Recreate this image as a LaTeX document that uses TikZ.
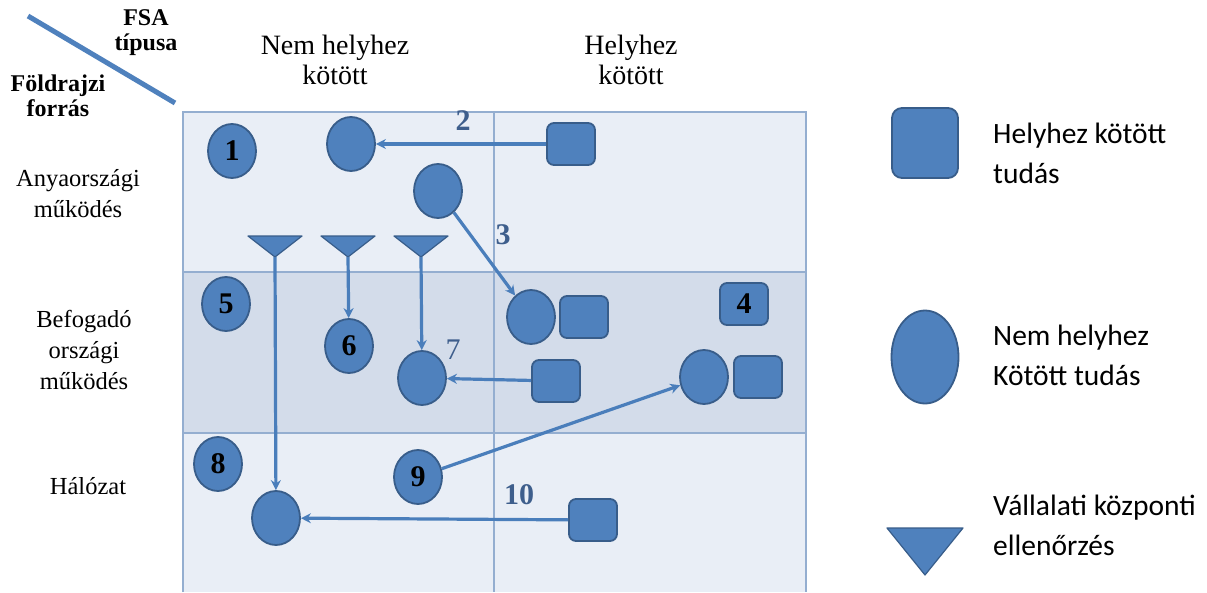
\documentclass[tikz,border=0pt]{standalone}
\usepackage{fontspec}
\setmainfont{Liberation Serif}
\newfontfamily\legfont{Carlito}
\usetikzlibrary{shapes.geometric,arrows.meta}
\definecolor{shfill}{HTML}{4F81BD}
\definecolor{shdraw}{HTML}{385D8A}
\definecolor{gridc}{HTML}{94AED0}
\definecolor{rowA}{HTML}{E9EEF6}
\definecolor{rowB}{HTML}{D3DCEA}
\definecolor{labc}{HTML}{3E5E8C}
\definecolor{arrc}{HTML}{4A7EBB}
\begin{document}
\begin{tikzpicture}[x=1pt,y=-1pt,
  know/.style={ellipse, fill=shfill, draw=shdraw, line width=1.8pt, minimum width=48pt, minimum height=54pt, inner sep=0pt, font=\fontsize{30}{30}\selectfont\bfseries},
  boxk/.style={rectangle, rounded corners=7pt, fill=shfill, draw=shdraw, line width=1.8pt, minimum width=48pt, minimum height=42pt, inner sep=0pt, font=\fontsize{30}{30}\selectfont\bfseries},
  trishape/.style={fill=shfill, draw=shdraw, line width=1.2pt, line join=round},
  arr/.style={draw=arrc, line width=3.2pt, -{Stealth[length=10pt,width=10pt]}},
  gridline/.style={draw=gridc, line width=1.4pt},
  numlab/.style={text=labc, font=\fontsize{30}{30}\selectfont\bfseries, inner sep=0pt},
  head/.style={align=center, font=\fontsize{28}{30}\selectfont, inner sep=0pt},
  rowlab/.style={align=center, font=\fontsize{24.5}{31}\selectfont, inner sep=0pt},
  corner/.style={align=center, font=\fontsize{24}{25}\selectfont\bfseries, inner sep=0pt},
  legtext/.style={anchor=west, align=left, font=\legfont\fontsize{29.5}{40}\selectfont, inner sep=0pt}
]
\useasboundingbox (0,0) rectangle (1207,592);
\fill[white] (0,0) rectangle (1207,592);
% grid
\fill[rowA] (183,112) rectangle (806,272);
\fill[rowB] (183,272) rectangle (806,433);
\fill[rowA] (183,433) rectangle (806,592);
\draw[gridline] (183,592) -- (183,112) -- (806,112) -- (806,592);
\draw[gridline] (183,272) -- (806,272);
\draw[gridline] (183,433) -- (806,433);
\draw[gridline] (494,112) -- (494,592);
% corner header
\draw[draw=shfill, line width=5pt] (28,16) -- (175,103);
\node[corner] (fsa) at (146,33) {FSA\\típusa};
\node[corner] (geo) at (58,96) {Földrajzi\\forrás};
% column headers
\node[head] (h1) at (335,60) {Nem helyhez\\kötött};
\node[head] (h2) at (631,60) {Helyhez\\kötött};
% row headers
\node[rowlab] (r1) at (78,194) {Anyaországi\\működés};
\node[rowlab] (r2) at (84,350) {Befogadó\\országi\\működés};
\node[rowlab] (r3) at (88,486) {Hálózat};
% row 1
\node[know] (c1) at (232,151) {1};
\node[know] (c2) at (351,144) {};
\node[know] (c3) at (438,191) {};
\node[boxk] (s2) at (571,144) {};
\node[numlab] (l2) at (463,121) {2};
\node[numlab] (l3) at (503,235) {3};
\coordinate (t1) at (275,257);
\coordinate (t2) at (348,257);
\coordinate (t3) at (421,257);
\foreach \t in {t1,t2,t3}{
  \draw[trishape] (\t) -- ++(-27,-21) -- ++(54,0) -- cycle;
}
% row 2
\node[know] (c5) at (226,304) {5};
\node[know] (c6) at (349,346) {6};
\node[know] (c7) at (422,378) {};
\node[numlab, font=\fontsize{30}{30}\selectfont] (l7) at (453,350) {7};
\node[know] (c3b) at (531,317) {};
\node[boxk] (s3b) at (584,317) {};
\node[boxk] (s4) at (744,304) {4};
\node[boxk] (s7) at (556,381) {};
\node[know] (c9b) at (704,377) {};
\node[boxk] (s9b) at (758,377) {};
% row 3
\node[know] (c8) at (218,464) {8};
\node[know] (c10) at (276,518) {};
\node[know] (c9) at (418,477) {9};
\node[numlab] (l10) at (519,495) {10};
\node[boxk] (s10) at (593,520) {};
% arrows
\draw[arr] (s2) -- (c2);
\draw[arr] (c3) -- (c3b);
\draw[arr] (t1) -- (c10);
\draw[arr] (t2) -- (c6);
\draw[arr] (t3) -- (c7);
\draw[arr] (s7) -- (c7);
\draw[arr] (c9) -- (c9b);
\draw[arr] (s10) -- (c10);
% legend
\node[boxk, minimum width=66pt, minimum height=70pt, rounded corners=10pt] (lg1) at (925,143) {};
\node[know, minimum width=67pt, minimum height=93pt] (lg2) at (925,357) {};
\coordinate (lg3) at (925,575);
\draw[trishape] (lg3) -- ++(-38,-47) -- ++(76,0) -- cycle;
\node[legtext] (lt1) at (993,153) {Helyhez kötött\\tudás};
\node[legtext] (lt2) at (993,355) {Nem helyhez\\Kötött tudás};
\node[legtext] (lt3) at (993,525) {Vállalati központi\\ellenőrzés};
\end{tikzpicture}
\end{document}
